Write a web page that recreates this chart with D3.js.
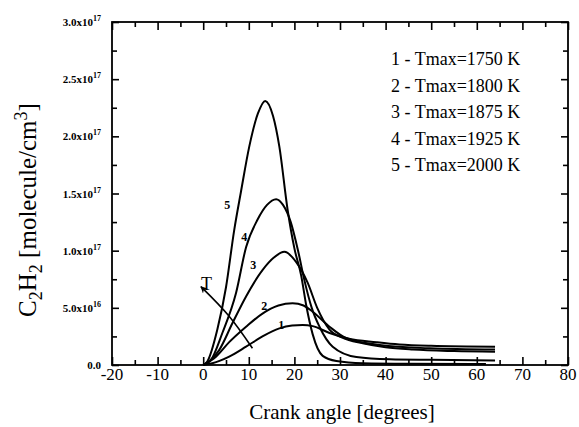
<!DOCTYPE html>
<meta charset="utf-8">
<style>

body {
  margin: 0;
  background: #fff;
}

.curve {
  fill: none;
  stroke: #000;
  stroke-width: 2px;
  stroke-linejoin: round;
}

.frame {
  fill: none;
  stroke: #000;
  stroke-width: 1.8px;
}

</style>
<body>
<script src="https://d3js.org/d3.v7.min.js"></script>
<script>

var width = 579,
    height = 427;

var margin = {top: 22, right: 11, bottom: 62, left: 112};

// crank angle [deg] and C2H2 [1e17 molecule/cm3]
var angle1 = [0, 2, 5.7, 9.4, 13, 16.7, 19.5, 21.8, 24, 27.7, 32, 38, 43, 50, 64];
var conc1  = [0, 0.015, 0.073, 0.16, 0.25, 0.32, 0.345, 0.35, 0.34, 0.28, 0.23, 0.2, 0.18, 0.168, 0.16];

var angle2 = [0, 2.8, 5.7, 9.4, 13, 16.5, 19.6, 22, 24, 27.7, 31.4, 38.7, 49.7, 64];
var conc2  = [0, 0.073, 0.2, 0.335, 0.45, 0.52, 0.54, 0.52, 0.466, 0.335, 0.234, 0.175, 0.146, 0.135];

var angle3 = [0, 1.3, 3.5, 6.4, 9.4, 13, 15.5, 17.8, 20.4, 22.9, 25, 27.7, 30.5, 35, 40, 46, 55, 64];
var conc3  = [0, 0.03, 0.13, 0.365, 0.6, 0.83, 0.94, 0.99, 0.9, 0.72, 0.5, 0.31, 0.24, 0.19, 0.155, 0.135, 0.122, 0.116];

var angle4 = [0, 1.7, 4.2, 7.2, 9.4, 11.9, 14, 16, 17.5, 19.2, 20.8, 22.2, 23.8, 25.5, 28.4, 33.6, 40.9, 50, 64];
var conc4  = [0, 0.044, 0.28, 0.63, 1.03, 1.27, 1.4, 1.45, 1.4, 1.25, 1.0, 0.74, 0.5, 0.335, 0.16, 0.07, 0.05, 0.045, 0.04];

var angle5 = [0, 0.9, 3.1, 5, 6.8, 8.3, 10.1, 12, 13.6, 15.3, 16.7, 18.5, 20, 21.5, 22.6, 24, 26.2, 29.2, 35, 45, 62];
var conc5  = [0, 0.03, 0.31, 0.68, 1.18, 1.52, 1.91, 2.2, 2.31, 2.18, 1.91, 1.36, 1.02, 0.78, 0.52, 0.27, 0.08, 0.035, 0.015, 0.01, 0.008];

var curveNames = ["1", "2", "3", "4", "5"];
// where each curve number is written
var labelAngle = [17.1, 13.4, 11.0, 9.0, 5.3];
var labelConc  = [0.35, 0.52, 0.875, 1.12, 1.40];

var legendLabels = ["1 - Tmax=1750 K", "2 - Tmax=1800 K", "3 - Tmax=1875 K", "4 - Tmax=1925 K", "5 - Tmax=2000 K"];

var xTicks = [-20, -10, 0, 10, 20, 30, 40, 50, 60, 70, 80];
var xMinor = [-15, -5, 5, 15, 25, 35, 45, 55, 65, 75];
var yTicks = [0, 0.5, 1, 1.5, 2, 2.5, 3];
var yMinor = [0.25, 0.75, 1.25, 1.75, 2.25, 2.75];
var yMant  = ["0.0", "5.0x10", "1.0x10", "1.5x10", "2.0x10", "2.5x10", "3.0x10"];
var yExp   = ["", "16", "17", "17", "17", "17", "17"];

// temperature arrow (tail -> head)
var arrowAngle = [10.8, 5.6, -0.5];
var arrowConc  = [0.146, 0.43, 0.685];

var x = d3.scaleLinear()
    .domain([-20, 80])
    .range([margin.left, width - margin.right]);

var y = d3.scaleLinear()
    .domain([0, 3])
    .range([height - margin.bottom, margin.top]);

var svg = d3.select("body").append("svg")
    .attr("width", width)
    .attr("height", height);

var defs = svg.append("defs");
defs.append("marker")
    .attr("id", "arrow")
    .attr("viewBox", "0 0 10 10")
    .attr("refX", 9)
    .attr("refY", 5)
    .attr("markerWidth", 9)
    .attr("markerHeight", 7)
    .attr("markerUnits", "userSpaceOnUse")
    .attr("orient", "auto")
  .append("path")
    .attr("d", "M0,0L10,5L0,10L3,5Z")
    .attr("fill", "#000");

svg.append("rect")
    .attr("class", "frame")
    .attr("x", x(-20))
    .attr("y", y(3))
    .attr("width", x(80) - x(-20))
    .attr("height", y(0) - y(3));

// ticks on all four sides, pointing inward
function addTicks(axis, values, size, translate) {
  var g = svg.append("g")
      .attr("transform", translate)
      .call(axis.tickValues(values).tickSize(-size).tickFormat(function() { return ""; }));
  g.select(".domain").remove();
  g.selectAll(".tick line")
      .attr("stroke", "#000")
      .attr("stroke-width", 1.6);
}

var atBottom = "translate(0," + y(0) + ")",
    atTop = "translate(0," + y(3) + ")",
    atLeft = "translate(" + x(-20) + ",0)",
    atRight = "translate(" + x(80) + ",0)";

addTicks(d3.axisBottom(x), xTicks, 8, atBottom);
addTicks(d3.axisBottom(x), xMinor, 5, atBottom);
addTicks(d3.axisTop(x), xTicks, 8, atTop);
addTicks(d3.axisTop(x), xMinor, 5, atTop);
addTicks(d3.axisLeft(y), yTicks, 7, atLeft);
addTicks(d3.axisLeft(y), yMinor, 5, atLeft);
addTicks(d3.axisRight(y), yTicks, 7, atRight);
addTicks(d3.axisRight(y), yMinor, 5, atRight);

// x tick labels
svg.append("g").selectAll("text")
    .data(xTicks)
  .enter().append("text")
    .attr("x", function(d) { return x(d); })
    .attr("y", y(0) + 15)
    .attr("text-anchor", "middle")
    .attr("font-size", "17px")
    .text(function(d) { return d; });

// y tick labels with exponents
var yl = svg.append("g").selectAll("text")
    .data(yTicks)
  .enter().append("text")
    .attr("x", x(-20) - 11)
    .attr("y", function(d) { return y(d) + 4; })
    .attr("text-anchor", "end")
    .attr("font-weight", "bold")
    .attr("font-size", "11px");
yl.append("tspan")
    .text(function(d, i) { return yMant[i]; });
yl.append("tspan")
    .attr("dy", -5)
    .attr("font-size", "8px")
    .text(function(d, i) { return yExp[i]; });

var line = d3.line()
    .x(function(d) { return x(d[0]); })
    .y(function(d) { return y(d[1]); })
    .curve(d3.curveMonotoneX);

var series = [
  d3.zip(angle1, conc1),
  d3.zip(angle2, conc2),
  d3.zip(angle3, conc3),
  d3.zip(angle4, conc4),
  d3.zip(angle5, conc5)
];

svg.append("g").selectAll("path")
    .data(series)
  .enter().append("path")
    .attr("class", "curve")
    .attr("d", line);

svg.append("g").selectAll("text")
    .data(curveNames)
  .enter().append("text")
    .attr("x", function(d, i) { return x(labelAngle[i]); })
    .attr("y", function(d, i) { return y(labelConc[i]) + 4; })
    .attr("text-anchor", "middle")
    .attr("font-weight", "bold")
    .attr("font-size", "12px")
    .text(function(d) { return d; });

svg.append("path")
    .attr("fill", "none")
    .attr("stroke", "#000")
    .attr("stroke-width", 1.6)
    .attr("marker-end", "url(#arrow)")
    .attr("d", d3.line().curve(d3.curveNatural)
        .x(function(d) { return x(d[0]); })
        .y(function(d) { return y(d[1]); })(d3.zip(arrowAngle, arrowConc)));

svg.append("text")
    .attr("x", x(0.7))
    .attr("y", y(0.7) + 5)
    .attr("text-anchor", "middle")
    .attr("font-size", "18px")
    .text("T");

// legend
svg.append("g").selectAll("text")
    .data(legendLabels)
  .enter().append("text")
    .attr("x", 391)
    .attr("y", function(d, i) { return 65 + i * 26.6; })
    .attr("font-size", "18px")
    .text(function(d) { return d; });

// axis titles
svg.append("text")
    .attr("x", x(30) + 2)
    .attr("y", 419)
    .attr("text-anchor", "middle")
    .attr("font-size", "21px")
    .text("Crank angle [degrees]");

var yt = svg.append("text")
    .attr("transform", "translate(36,210) rotate(-90)")
    .attr("text-anchor", "middle")
    .attr("font-size", "25px");
yt.append("tspan").text("C");
yt.append("tspan").attr("dy", 6).attr("font-size", "18px").text("2");
yt.append("tspan").attr("dy", -6).text("H");
yt.append("tspan").attr("dy", 6).attr("font-size", "18px").text("2");
yt.append("tspan").attr("dy", -6).text(" [molecule/cm");
yt.append("tspan").attr("dy", -9).attr("font-size", "18px").text("3");
yt.append("tspan").attr("dy", 9).text("]");

</script>
